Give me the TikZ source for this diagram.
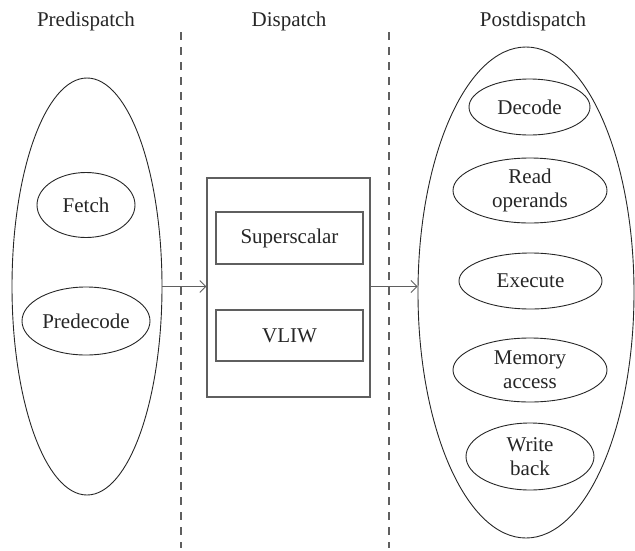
\documentclass[tikz,border=0pt]{standalone}
\usepackage{fontspec}
\setmainfont{Liberation Serif}
\usetikzlibrary{shapes.geometric,arrows.meta}
\definecolor{lgray}{RGB}{95,95,95}
\tikzset{
  stage/.style={draw=black!85,line width=0.9pt,ellipse,inner sep=0pt,font=\fontsize{21}{24}\selectfont,align=center,text=black!85},
  bigell/.style={draw=black!85,line width=0.9pt,ellipse,inner sep=0pt},
  kind/.style={draw=lgray,line width=1.2pt,rectangle,inner sep=0pt,font=\fontsize{21}{24}\selectfont,text=black!85},
  title/.style={font=\fontsize{21}{24}\selectfont,text=black!85},
  sep/.style={draw=lgray,line width=1.1pt,dash pattern=on 8pt off 7pt},
  flow/.style={draw=lgray,line width=0.9pt,-{Straight Barb[length=6pt,width=12pt]}}
}
\begin{document}
\begin{tikzpicture}[x=1pt,y=-1pt]
\useasboundingbox (0,0) rectangle (635,550);
% titles
\node[title] (t1) at (86,21) {Predispatch};
\node[title] (t2) at (289,21) {Dispatch};
\node[title] (t3) at (533,21) {Postdispatch};
% separators
\coordinate (s1a) at (181,32); \coordinate (s1b) at (181,548);
\coordinate (s2a) at (389,32); \coordinate (s2b) at (389,548);
\draw[sep] (s1a) -- (s1b);
\draw[sep] (s2a) -- (s2b);
% predispatch
\node[bigell,minimum width=150pt,minimum height=417pt] (pre) at (87,286.5) {};
\node[stage,minimum width=98pt,minimum height=65pt] (fetch) at (86,205) {Fetch};
\node[stage,minimum width=128pt,minimum height=68pt] (predec) at (86,321) {Predecode};
% dispatch
\node[kind,minimum width=163pt,minimum height=219pt] (disp) at (288.5,287.5) {};
\node[kind,minimum width=147pt,minimum height=52pt] (ss) at (289.5,238) {Superscalar};
\node[kind,minimum width=147pt,minimum height=51pt] (vliw) at (289.5,335.5) {VLIW};
% postdispatch
\node[bigell,minimum width=216pt,minimum height=491pt] (post) at (526,292.5) {};
\node[stage,minimum width=121pt,minimum height=56pt] (dec) at (529.5,107) {Decode};
\node[stage,minimum width=154pt,minimum height=65pt] (rop) at (530,190.5) {Read\\operands};
\node[stage,minimum width=143pt,minimum height=56pt] (exe) at (530.5,281) {Execute};
\node[stage,minimum width=154pt,minimum height=64pt] (mem) at (530,370) {Memory\\access};
\node[stage,minimum width=128pt,minimum height=67pt] (wb) at (530,456.5) {Write\\back};
% arrows
\draw[flow] (pre.east) -- (disp.west |- pre.east);
\draw[flow] (disp.east |- pre.east) -- (post.west |- pre.east);
\end{tikzpicture}
\end{document}
